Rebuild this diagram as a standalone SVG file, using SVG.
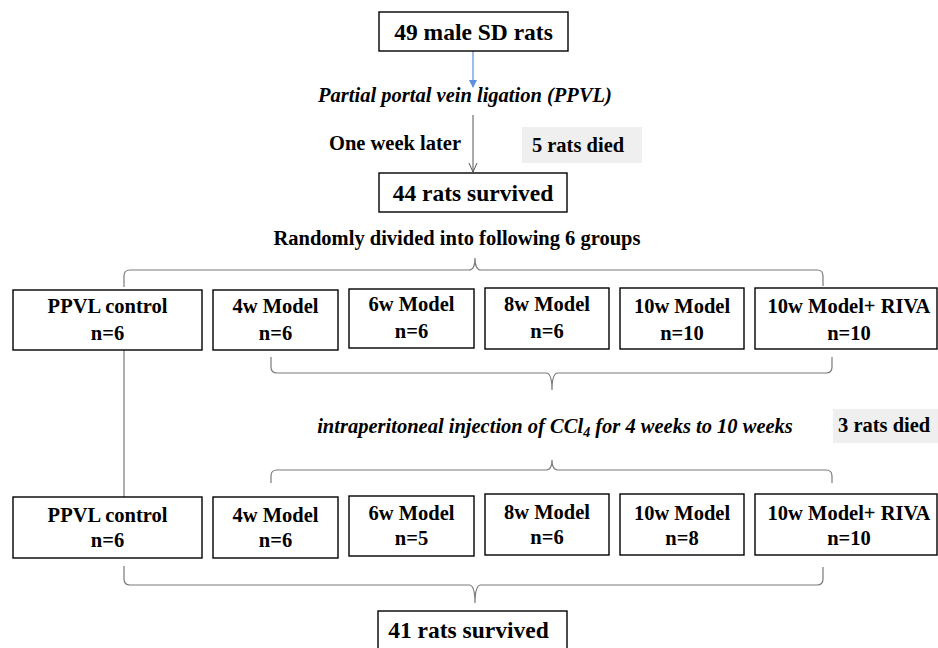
<svg xmlns="http://www.w3.org/2000/svg" width="938" height="648" viewBox="0 0 938 648">
<style>
.box{fill:#fff;stroke:#000;stroke-width:1.4}
.t{font-family:'Liberation Serif','Times New Roman',serif;font-weight:700;font-size:20.5px;fill:#000;text-anchor:middle}
.big{font-size:23.5px}
.it{font-style:italic}
.brace{fill:none;stroke:#7a7a7a;stroke-width:1.2}
.note{fill:#efefef}
</style>
<defs>
<marker id="blue" markerWidth="8" markerHeight="8" refX="7" refY="4" orient="auto" markerUnits="userSpaceOnUse">
<path d="M0,0 L8,4 L0,8 Z" fill="#5b8fe0"/>
</marker>
<marker id="open" markerWidth="10" markerHeight="10" refX="9" refY="5" orient="auto" markerUnits="userSpaceOnUse">
<path d="M0,1 L9,5 L0,9" fill="none" stroke="#555" stroke-width="1"/>
</marker>
</defs>
<rect width="938" height="648" fill="#fff"/>

<g id="connectors">
<line x1="473" y1="51" x2="473" y2="87" stroke="#5b8fe0" stroke-width="1.2" marker-end="url(#blue)"/>
<line x1="473" y1="115" x2="473" y2="172" stroke="#555" stroke-width="1" marker-end="url(#open)"/>
<path class="brace" d="M124,287 L124,276 Q124,270 130,270 L469,270 Q475,270 475,258 Q475,270 481,270 L817,270 Q823,270 823,276 L823,286"/>
<path class="brace" d="M271,357 L271,367 Q271,373 277,373 L546,373 Q552,373 552,390 Q552,373 558,373 L826,373 Q832,373 832,367 L832,357"/>
<line x1="124" y1="350" x2="124" y2="497" stroke="#7a7a7a" stroke-width="1.2"/>
<path class="brace" d="M271,483 L271,476 Q271,470 277,470 L546,470 Q552,470 552,460 Q552,470 558,470 L826,470 Q832,470 832,476 L832,483"/>
<path class="brace" d="M124,566 L124,579 Q124,585 130,585 L469,585 Q475,585 475,603 Q475,585 481,585 L817,585 Q823,585 823,579 L823,567"/>
</g>

<g id="start">
<rect class="box" x="379" y="12" width="189" height="39"/>
<text class="t big" x="473.5" y="40">49 male SD rats</text>
</g>

<g id="ppvl-label">
<text class="t it" x="465" y="102">Partial portal vein ligation (PPVL)</text>
</g>

<g id="week-label">
<text class="t" x="395" y="150">One week later</text>
</g>

<g id="died5">
<rect class="note" x="522" y="127" width="120" height="36"/>
<text class="t" x="578" y="152">5 rats died</text>
</g>

<g id="survived44">
<rect class="box" x="379" y="173" width="188" height="39"/>
<text class="t big" x="473" y="201">44 rats survived</text>
</g>

<g id="random-label">
<text class="t" x="457" y="245">Randomly divided into following 6 groups</text>
</g>

<g id="r1-ppvl">
<rect class="box" x="13" y="290" width="189" height="60"/>
<text class="t" x="107.5" y="313">PPVL control</text>
<text class="t" x="107.5" y="340">n=6</text>
</g>
<g id="r1-4w">
<rect class="box" x="213" y="290" width="125" height="60"/>
<text class="t" x="275.5" y="313">4w Model</text>
<text class="t" x="275.5" y="340">n=6</text>
</g>
<g id="r1-6w">
<rect class="box" x="349" y="289" width="125" height="59"/>
<text class="t" x="411.5" y="311">6w Model</text>
<text class="t" x="411.5" y="338">n=6</text>
</g>
<g id="r1-8w">
<rect class="box" x="485" y="288" width="124" height="61"/>
<text class="t" x="547" y="311">8w Model</text>
<text class="t" x="547" y="338">n=6</text>
</g>
<g id="r1-10w">
<rect class="box" x="620" y="288" width="124" height="61"/>
<text class="t" x="682" y="313">10w Model</text>
<text class="t" x="682" y="340">n=10</text>
</g>
<g id="r1-10wriva">
<rect class="box" x="755" y="288" width="182" height="61"/>
<text class="t" x="849" y="313">10w Model+ RIVA</text>
<text class="t" x="849" y="340">n=10</text>
</g>

<g id="ccl4-label">
<text class="t it" x="555" y="433">intraperitoneal injection of CCl<tspan font-size="14" dy="4">4</tspan><tspan dy="-4"> for 4 weeks to 10 weeks</tspan></text>
</g>

<g id="died3">
<rect class="note" x="833" y="409" width="105" height="34"/>
<text class="t" x="838" y="432" style="text-anchor:start">3 rats died</text>
</g>

<g id="r2-ppvl">
<rect class="box" x="13" y="497" width="189" height="61"/>
<text class="t" x="107.5" y="522">PPVL control</text>
<text class="t" x="107.5" y="547">n=6</text>
</g>
<g id="r2-4w">
<rect class="box" x="213" y="497" width="125" height="61"/>
<text class="t" x="275.5" y="522">4w Model</text>
<text class="t" x="275.5" y="547">n=6</text>
</g>
<g id="r2-6w">
<rect class="box" x="349" y="496" width="125" height="60"/>
<text class="t" x="411.5" y="520">6w Model</text>
<text class="t" x="411.5" y="545">n=5</text>
</g>
<g id="r2-8w">
<rect class="box" x="485" y="494" width="124" height="61"/>
<text class="t" x="547" y="519">8w Model</text>
<text class="t" x="547" y="544">n=6</text>
</g>
<g id="r2-10w">
<rect class="box" x="620" y="494" width="124" height="61"/>
<text class="t" x="682" y="520">10w Model</text>
<text class="t" x="682" y="545">n=8</text>
</g>
<g id="r2-10wriva">
<rect class="box" x="755" y="494" width="182" height="61"/>
<text class="t" x="849" y="520">10w Model+ RIVA</text>
<text class="t" x="849" y="545">n=10</text>
</g>

<g id="survived41">
<rect class="box" x="378" y="611" width="189" height="40"/>
<text class="t big" x="468.5" y="638">41 rats survived</text>
</g>
</svg>
